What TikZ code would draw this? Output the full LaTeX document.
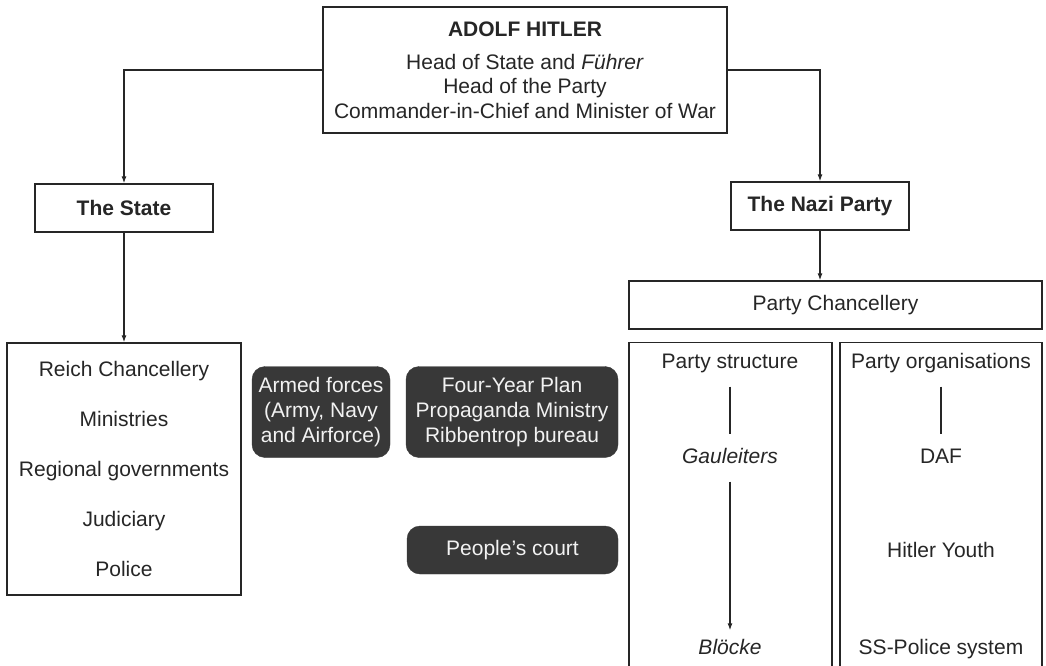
\documentclass[tikz,border=0pt]{standalone}
\usepackage{fontspec}
\setmainfont{Liberation Sans}
\usetikzlibrary{arrows.meta,positioning}

\definecolor{inkgray}{HTML}{262626}
\definecolor{boxdark}{HTML}{383838}

\tikzset{
  orgbox/.style={draw=inkgray, line width=1.3pt, text=inkgray, inner sep=0pt, align=center},
  darkbox/.style={fill=boxdark, draw=boxdark, rounded corners=13pt, text=white!95!black,
    inner sep=0pt, align=center, font=\fontsize{21}{25}\selectfont},
  entry/.style={text=inkgray, inner xsep=0pt, inner ysep=14pt, text height=15pt, text depth=4pt},
  link/.style={draw=inkgray, line width=1.2pt},
  arrowlink/.style={link, -{Latex[length=7pt,width=5pt]}}
}

\begin{document}
\begin{tikzpicture}[x=1pt, y=-1pt, font=\fontsize{21}{24.5}\selectfont]
            \useasboundingbox (0,0) rectangle (1046,666);
            \clip (0,0) rectangle (1046,666);
            \fill[white] (0,0) rectangle (1046,666);

            % Head of the chart
            \node[orgbox, minimum width=404pt, minimum height=126pt] (hitler) at (525,70)
              {\textbf{ADOLF HITLER}\\[8.5pt]Head of State and \textit{Führer}\\Head of the Party\\Commander-in-Chief and Minister of War};

            % The two branches
            \node[orgbox, minimum width=178pt, minimum height=48pt] (state) at (124,208) {\textbf{The State}};
            \node[orgbox, minimum width=178pt, minimum height=48pt] (nazi) at (820,206) {\textbf{The Nazi Party}};
            \draw[arrowlink] (hitler.west) -| (state.north);
            \draw[arrowlink] (hitler.east) -| (nazi.north);

            % State side
            \node[orgbox, minimum width=234pt, minimum height=252pt, font=\fontsize{21}{50.2}\selectfont] (reich) at (124,469)
              {Reich Chancellery\\Ministries\\Regional governments\\Judiciary\\Police};
            \draw[arrowlink] (state) -- (reich);

            % Bodies in between
            \node[darkbox, minimum width=138pt, minimum height=91pt] (armed) at (321,412) {Armed forces\\(Army, Navy\\and Airforce)};
            \node[darkbox, minimum width=212pt, minimum height=91pt] (fouryear) at (512,412) {Four-Year Plan\\Propaganda Ministry\\Ribbentrop bureau};
            \node[darkbox, minimum width=211pt, minimum height=48pt] (court) at (512.5,550) {People's court};

            % Party side
            \node[orgbox, minimum width=413pt, minimum height=48pt] (chancellery) at (835.5,305) {Party Chancellery};
            \draw[arrowlink] (nazi.south) -- (nazi.south |- chancellery.north);

            \node[orgbox, anchor=north, minimum width=203pt, minimum height=360pt] (structure) at (730.5,342) {};
            \node[orgbox, anchor=north, minimum width=202pt, minimum height=360pt] (organisations) at (941,342) {};

            % Party structure column
            \node[entry] (pstruct) at (730,363) {Party structure};
            \node[entry] (gauleiters) at (730,458) {\textit{Gauleiters}};
            \node[entry] (bloecke) at (730,649) {\textit{Blöcke}};
            \draw[link] (pstruct) -- (gauleiters);
            \draw[arrowlink, shorten >=-5pt] (gauleiters) -- (bloecke);

            % Party organisations column
            \node[entry] (porg) at (941,363) {Party organisations};
            \node[entry] (daf) at (941,458) {DAF};
            \node[entry] (hyouth) at (941,552) {Hitler Youth};
            \node[entry] (sspolice) at (941,649) {SS-Police system};
            \draw[link] (porg) -- (daf);
\end{tikzpicture}
\end{document}
